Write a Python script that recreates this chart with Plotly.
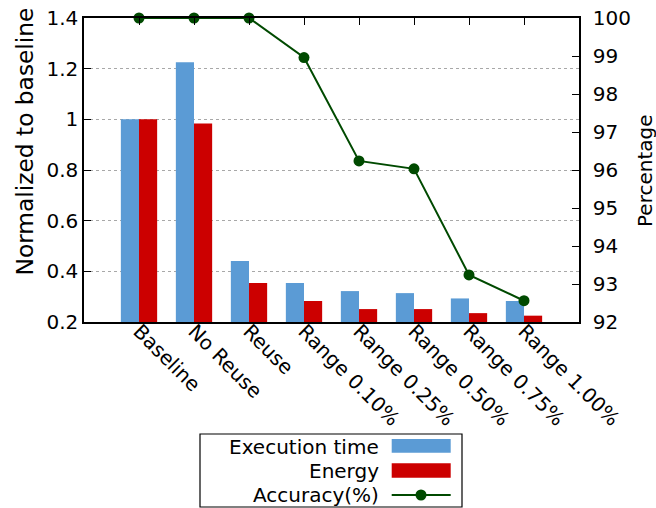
import plotly.graph_objects as go

categories = ["Baseline", "No Reuse", "Reuse", "Range 0.10%", "Range 0.25%",
              "Range 0.50%", "Range 0.75%", "Range 1.00%"]
exec_time = [1.0, 1.225, 0.441, 0.354, 0.322, 0.314, 0.293, 0.283]
energy = [1.0, 0.984, 0.354, 0.283, 0.251, 0.251, 0.235, 0.225]
accuracy = [100.0, 100.0, 100.0, 98.96, 96.24, 96.03, 93.24, 92.56]

left_ticks = [0.2, 0.4, 0.6, 0.8, 1.0, 1.2, 1.4]
left_ticktext = ["0.2", "0.4", "0.6", "0.8", "1", "1.2", "1.4"]
right_ticks = [92, 93, 94, 95, 96, 97, 98, 99, 100]

BLUE = "#5b9bd5"
RED = "#cc0000"
GREEN = "#004a00"
FONT = "DejaVu Sans"
FS = 20
BASE = 0.2

W, H = 656, 508
L, R, T, B = 84, 579, 18, 322

xs = list(range(len(categories)))

fig = go.Figure()
fig.add_trace(go.Bar(x=xs, y=[v - BASE for v in exec_time], base=BASE,
                     name="Execution time",
                     marker=dict(color=BLUE, line=dict(width=0)),
                     offsetgroup="a"))
fig.add_trace(go.Bar(x=xs, y=[v - BASE for v in energy], base=BASE, name="Energy",
                     marker=dict(color=RED, line=dict(width=0)),
                     offsetgroup="b"))
fig.add_trace(go.Scatter(x=xs, y=accuracy, yaxis="y2", name="Accuracy(%)",
                         mode="lines+markers", cliponaxis=False,
                         line=dict(color=GREEN, width=2),
                         marker=dict(color=GREEN, size=11)))
# invisible trace to draw top mirror ticks
fig.add_trace(go.Scatter(x=xs, y=[None] * len(xs), xaxis="x2", showlegend=False,
                         hoverinfo="skip"))


def px(x):
    return (x - L) / (R - L)


def py(y):
    return (B - y) / (B - T)


shapes = [
    dict(type="rect", xref="paper", yref="paper", x0=px(200), x1=px(462),
         y0=py(507), y1=py(434), line=dict(color="black", width=1.2),
         fillcolor="white"),
    dict(type="rect", xref="paper", yref="paper", x0=px(391.7), x1=px(450.7),
         y0=py(452.7), y1=py(439), line=dict(width=0), fillcolor=BLUE),
    dict(type="rect", xref="paper", yref="paper", x0=px(391.7), x1=px(450.7),
         y0=py(477.7), y1=py(463.3), line=dict(width=0), fillcolor=RED),
    dict(type="line", xref="paper", yref="paper", x0=px(391.7), x1=px(450.7),
         y0=py(495), y1=py(495), line=dict(color=GREEN, width=2)),
    dict(type="circle", xref="paper", yref="paper", x0=px(415.5), x1=px(426.5),
         y0=py(500.5), y1=py(489.5), line=dict(color=GREEN, width=0),
         fillcolor=GREEN),
]
annotations = []
for text, yc in [("Execution time", 446.5), ("Energy", 470.5), ("Accuracy(%)", 495)]:
    annotations.append(dict(text=text, xref="paper", yref="paper", x=px(381),
                            y=py(yc), xanchor="right", yanchor="middle",
                            showarrow=False, font=dict(family=FONT, size=FS, color="black")))
annotations.append(dict(text="Normalized to baseline", xref="paper", yref="paper",
                        x=px(23.5), y=py(142), textangle=-90, xanchor="center",
                        yanchor="middle", showarrow=False,
                        font=dict(family=FONT, size=23.3, color="black")))
annotations.append(dict(text="Percentage", xref="paper", yref="paper",
                        x=px(645), y=py(171), textangle=-90, xanchor="center",
                        yanchor="middle", showarrow=False,
                        font=dict(family=FONT, size=FS, color="black")))

fig.update_layout(
    width=W, height=H,
    margin=dict(l=L, r=W - R, t=T, b=H - B),
    paper_bgcolor="white", plot_bgcolor="white",
    font=dict(family=FONT, size=FS, color="black"),
    barmode="group", bargap=0.34, bargroupgap=0,
    showlegend=False,
    shapes=shapes, annotations=annotations,
    xaxis=dict(range=[-1, 8], tickvals=xs, ticktext=categories, tickangle=45,
               ticks="", showline=True, linecolor="black", linewidth=1.5,
               showgrid=False, zeroline=False, automargin=False,
               ticklabelstandoff=-12, ticklabeloverflow="allow"),
    xaxis2=dict(range=[-1, 8], overlaying="x", side="top", tickvals=xs,
                showticklabels=False, ticks="inside", ticklen=7,
                tickcolor="black", showline=True, linecolor="black", linewidth=1.5,
                showgrid=False, zeroline=False, anchor="y", automargin=False),
    yaxis=dict(range=[0.2, 1.4], tickvals=left_ticks, ticktext=left_ticktext,
               ticks="inside", ticklen=7, tickcolor="black",
               showline=True, linecolor="black", linewidth=1.5,
               showgrid=True, gridcolor="#a8a8a8", griddash="dot", gridwidth=1,
               zeroline=False, automargin=False, ticklabeloverflow="allow"),
    yaxis2=dict(range=[92, 100], tickvals=right_ticks, overlaying="y", side="right",
                ticks="inside", ticklen=7, tickcolor="black",
                showline=True, linecolor="black", linewidth=1.5,
                showgrid=False, zeroline=False, automargin=False,
                ticklabeloverflow="allow", ticklabelstandoff=8),
)

fig.write_html("out.html", config={"displayModeBar": False},
               post_script="document.body.style.margin='0px';")
